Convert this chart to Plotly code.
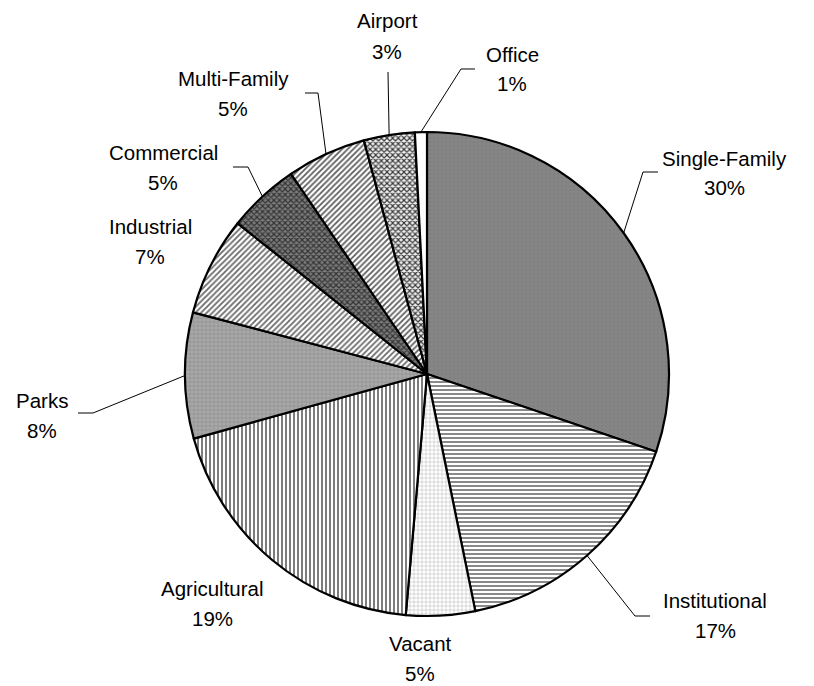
import math
import plotly.graph_objects as go

# ---- data ----
categories = ["Single-Family", "Institutional", "Vacant", "Agricultural", "Parks",
              "Industrial", "Commercial", "Multi-Family", "Airport", "Office"]
shares = [30.2, 16.6, 4.6, 19.3, 8.4, 6.6, 4.8, 5.3, 3.4, 0.8]

# ---- styling ----
W, H = 814, 686
OFF = 8  # default page margin of the html body
CX, CY, R = 427 - OFF, 374 - OFF, 242  # pie centre / radius in figure px (layout)

bg_colors = ["#858585", "#ffffff", "#ffffff", "#ffffff", "#a9a9a9",
             "#ffffff", "#7c7c7c", "#ffffff", "#f0f0f0", "#ffffff"]
fg_colors = ["#7b7b7b", "#8a8a8a", "#b8b8b8", "#7d7d7d", "#8e8e8e",
             "#6a6a6a", "#333333", "#5e5e5e", "#3a3a3a", "#ffffff"]
shapes_pat = [".", "-", "+", "|", "+", "/", "x", "/", "x", ""]
solid = [0.15, 0.5, 0.25, 0.5, 0.3, 0.45, 0.5, 0.45, 0.5, 0.3]

# label block centres (screen px) and leader elbows (screen px); layout only
label_pos = {
    "Single-Family": (724, 158), "Institutional": (715, 600), "Vacant": (420, 643),
    "Agricultural": (212, 588), "Parks": (42, 400), "Industrial": (150, 226),
    "Commercial": (163, 152), "Multi-Family": (233, 78), "Airport": (387, 21),
    "Office": (512, 54),
}
leaders = {
    "Single-Family": [(658, 172), (643, 172)],
    "Institutional": [(650, 616), (635, 616)],
    "Parks": [(78, 413), (93, 413)],
    "Commercial": [(233, 167), (248, 167)],
    "Multi-Family": [(305, 93), (318, 93)],
    "Airport": [(388, 72)],
    "Office": [(475, 69), (461, 69)],
}
LINE_GAP = 30
FONT = dict(family="Liberation Sans, Arial, sans-serif", size=20.5, color="black")


def px2paper(x, y, shift=True):
    if shift:
        x, y = x - OFF, y - OFF
    return x / W, 1 - y / H


fig = go.Figure(go.Pie(
    labels=categories, values=shares, sort=False, direction="clockwise", rotation=0,
    textinfo="none", hoverinfo="skip", showlegend=False,
    domain=dict(x=[(CX - R) / W, (CX + R) / W], y=[1 - (CY + R) / H, 1 - (CY - R) / H]),
    marker=dict(colors=bg_colors, line=dict(color="black", width=2.2),
                pattern=dict(shape=shapes_pat, fgcolor=fg_colors, bgcolor=bg_colors,
                             size=4, solidity=solid, fillmode="replace")),
))

total = sum(shares)
annotations = []
shapes = []
cum = 0.0
for name, v in zip(categories, shares):
    mid = (cum + v / 2) / total * 2 * math.pi
    cum += v
    ax, ay = CX + R * math.sin(mid), CY - R * math.cos(mid)  # figure px
    lx, ly = label_pos[name]
    for txt, yy in ((name, ly), (f"{int(v / total * 100 + 0.5)}%", ly + LINE_GAP)):
        px, py = px2paper(lx, yy)
        annotations.append(dict(text=txt, x=px, y=py, xref="paper", yref="paper",
                                showarrow=False, font=FONT, xanchor="center", yanchor="middle"))
    if name in leaders:
        pts = [px2paper(x, y) for x, y in leaders[name]] + [px2paper(ax, ay, shift=False)]
        path = " ".join(("M" if i == 0 else "L") + f"{x:.5f},{y:.5f}"
                        for i, (x, y) in enumerate(pts))
        shapes.append(dict(type="path", path=path, xref="paper", yref="paper",
                           line=dict(color="black", width=1)))

fig.update_layout(width=W, height=H, margin=dict(l=0, r=0, t=0, b=0),
                  paper_bgcolor="white", plot_bgcolor="white",
                  annotations=annotations, shapes=shapes)
fig.write_html("out.html")
